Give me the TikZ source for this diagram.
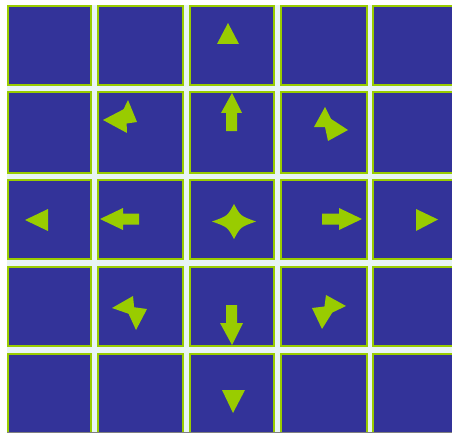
\documentclass[tikz,border=0pt]{standalone}
\definecolor{cellblue}{HTML}{333399}
\definecolor{cellgreen}{HTML}{99CC00}
\definecolor{gapcol}{HTML}{E8F4F4}
\tikzset{
  cellbox/.style={fill=cellblue,draw=cellgreen,line width=2pt},
  arrowshape/.style={fill=cellgreen,draw=none}
}
\begin{document}
\begin{tikzpicture}[x=1pt,y=-1pt]
\useasboundingbox (0,0) rectangle (452,433);
\fill[white] (0,0) rectangle (452,433);
\begin{scope}
\clip (0,0) rectangle (452,433);
\fill[gapcol] (7,5) rectangle (452,433);
\foreach \xa/\xb in {7/92,97/184,189/275,280/368,372/457}{
  \foreach \ya/\yb in {5/86,91/174,179/260,266/347,353/436}{
    \draw[cellbox] (\xa+1,\ya+1) rectangle (\xb-1,\yb-1);
  }
}
\draw[gray,line width=1pt] (7,432.5) -- (452,432.5);
\end{scope}
% simple triangles
\fill[arrowshape] (228,23) -- (217,44) -- (239,44) -- cycle;
\fill[arrowshape] (25,220) -- (48,209) -- (48,231) -- cycle;
\fill[arrowshape] (438,219.5) -- (416,209) -- (416,231) -- cycle;
\fill[arrowshape] (233,413) -- (222,390) -- (245,390) -- cycle;
% block arrows
\fill[arrowshape] (100,219) -- (123,208) -- (123,213.5) -- (139,213.5) -- (139,224.5) -- (123,224.5) -- (123,230) -- cycle;
\fill[arrowshape] (362,219) -- (339,208) -- (339,213.5) -- (322,213.5) -- (322,224.5) -- (339,224.5) -- (339,230) -- cycle;
\fill[arrowshape] (232,93) -- (221,113) -- (226,113) -- (226,131) -- (237,131) -- (237,113) -- (242,113) -- cycle;
\fill[arrowshape] (232,345) -- (220,323) -- (226,323) -- (226,305) -- (237,305) -- (237,323) -- (243,323) -- cycle;
% four-pointed star
\fill[arrowshape] (212,221.5) .. controls (227.5,216) .. (234,204)
  .. controls (240.5,216) .. (256,221.5)
  .. controls (240.5,227) .. (234,239)
  .. controls (227.5,227) .. cycle;
% diagonal pairs
\fill[arrowshape] (128,100) -- (137,122) -- (116,125) -- cycle;
\fill[arrowshape] (103,120) -- (126,108) -- (127,133) -- cycle;
\fill[arrowshape] (325,107) -- (335,127) -- (314,127) -- cycle;
\fill[arrowshape] (348,130) -- (322,113) -- (328,141) -- cycle;
\fill[arrowshape] (112,308) -- (133,296) -- (135,316) -- cycle;
\fill[arrowshape] (136,330) -- (147,309) -- (125,306) -- cycle;
\fill[arrowshape] (346,306) -- (326,295) -- (323,317) -- cycle;
\fill[arrowshape] (322,329) -- (312,308) -- (337,305) -- cycle;
\end{tikzpicture}
\end{document}
